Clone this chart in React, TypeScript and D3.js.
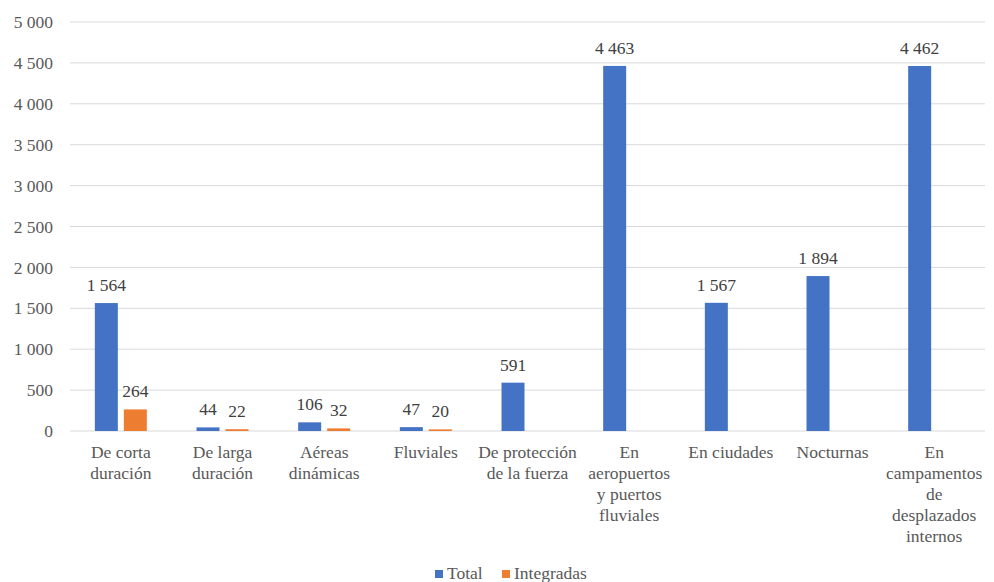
import React from 'react';
import * as d3 from 'd3';

const categories = [
  ['De corta', 'duración'],
  ['De larga', 'duración'],
  ['Aéreas', 'dinámicas'],
  ['Fluviales'],
  ['De protección', 'de la fuerza'],
  ['En', 'aeropuertos', 'y puertos', 'fluviales'],
  ['En ciudades'],
  ['Nocturnas'],
  ['En', 'campamentos', 'de', 'desplazados', 'internos'],
];
const totalValues = [1564, 44, 106, 47, 591, 4463, 1567, 1894, 4462];
const integradasValues: (number | null)[] = [264, 22, 32, 20, null, null, null, null, null];
const seriesNames = ['Total', 'Integradas'];
const seriesColors = ['#4472C4', '#ED7D31'];
const yTicks = [0, 500, 1000, 1500, 2000, 2500, 3000, 3500, 4000, 4500, 5000];

const W = 994;
const H = 582;
const margin = { top: 22, right: 9, bottom: 151, left: 70 };
const fmt = (v: number) => d3.format(',')(v).replace(/,/g, ' ');
const textColor = '#595959';
const ts: React.CSSProperties = { fontFamily: "'Liberation Serif', serif", fontSize: 17.5 };

const App = (): React.ReactElement => {
  const keys = categories.map((c) => c.join(' '));
  const x0 = d3.scaleBand<string>().domain(keys).range([margin.left, W - margin.right]).padding(0);
  const x1 = d3
    .scaleBand<string>()
    .domain(seriesNames)
    .range([0, x0.bandwidth()])
    .paddingInner(0.207)
    .paddingOuter(0.857);
  const y = d3.scaleLinear().domain([0, 5000]).range([H - margin.bottom, margin.top]);

  const series = [totalValues, integradasValues];

  return (
    <svg width={W} height={H} style={{ position: 'absolute', left: 0, top: 0 }}>
      <rect width={W} height={H} fill="#fff" />
      {yTicks.map((t) => (
        <g key={t}>
          <line x1={margin.left} x2={W - margin.right} y1={y(t)} y2={y(t)} stroke="#D9D9D9" strokeWidth={1} />
          <text x={53} y={y(t)} dy="0.35em" textAnchor="end" style={ts} fill={textColor}>
            {fmt(t)}
          </text>
        </g>
      ))}
      {keys.map((k, i) => (
        <g key={k}>
          {series.map((vals, s) => {
            const v = vals[i];
            if (v == null) return null;
            const bx = x0(k)! + x1(seriesNames[s])!;
            return (
              <g key={s}>
                <rect x={bx} y={y(v)} width={x1.bandwidth()} height={y(0) - y(v)} fill={seriesColors[s]} />
                <text x={bx + x1.bandwidth() / 2} y={y(v) - 12} textAnchor="middle" style={ts} fill="#404040">
                  {fmt(v)}
                </text>
              </g>
            );
          })}
          {categories[i].map((line, j) => (
            <text
              key={j}
              x={x0(k)! + x0.bandwidth() / 2}
              y={458 + j * 21}
              textAnchor="middle"
              style={ts}
              fill={textColor}
            >
              {line}
            </text>
          ))}
        </g>
      ))}
      <g>
        <rect x={435} y={570} width={8} height={8} fill={seriesColors[0]} />
        <text x={447} y={579} style={ts} fill={textColor}>
          {seriesNames[0]}
        </text>
        <rect x={502} y={570} width={8} height={8} fill={seriesColors[1]} />
        <text x={514} y={579} style={ts} fill={textColor}>
          {seriesNames[1]}
        </text>
      </g>
    </svg>
  );
};

export default App;
